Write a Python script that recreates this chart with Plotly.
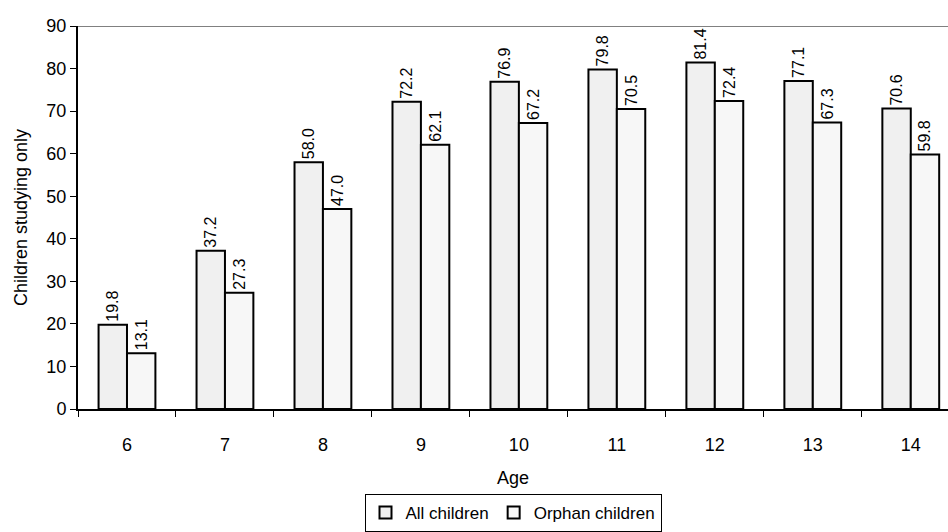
import plotly.graph_objects as go

ages = ["6", "7", "8", "9", "10", "11", "12", "13", "14"]
all_children = [19.8, 37.2, 58.0, 72.2, 76.9, 79.8, 81.4, 77.1, 70.6]
orphan_children = [13.1, 27.3, 47.0, 62.1, 67.2, 70.5, 72.4, 67.3, 59.8]

FONT = "Liberation Sans, Arial, sans-serif"

fig = go.Figure()
for name, vals, fill in [("All children", all_children, "#f0f0f0"),
                         ("Orphan children", orphan_children, "#f7f7f7")]:
    fig.add_trace(go.Bar(
        x=ages, y=vals, name=name,
        marker=dict(color=fill, line=dict(color="black", width=2)),
        text=[f"{v:.1f}" for v in vals], textposition="outside",
        textangle=-90, constraintext="none",
        textfont=dict(family=FONT, size=16, color="black"),
        cliponaxis=False,
    ))

fig.update_layout(
    width=948, height=532,
    margin=dict(l=78, r=0, t=26, b=123),
    paper_bgcolor="white", plot_bgcolor="white",
    font=dict(family=FONT, size=18, color="black"),
    barmode="group", bargap=0.42, bargroupgap=0,
    legend=dict(
        orientation="h", x=0.5, xanchor="center", y=-0.222, yanchor="top",
        bordercolor="black", borderwidth=1, font=dict(size=17),
        itemwidth=30, traceorder="normal", tracegroupgap=0,
    ),
    xaxis=dict(
        type="category", range=[-0.5, 8.38],
        tickson="boundaries", ticks="outside", ticklen=6, tickcolor="black",
        showline=True, linecolor="black", linewidth=2, showgrid=False,
        ticklabelstandoff=18,
        title=dict(text="Age", standoff=18, font=dict(size=18)),
        tickfont=dict(size=18),
    ),
    yaxis=dict(
        range=[0, 90], dtick=10, ticks="outside", ticklen=6, tickcolor="black",
        showline=True, linecolor="black", linewidth=2, showgrid=False,
        zeroline=False, tickfont=dict(size=18),
        title=dict(text="Children studying only", standoff=14, font=dict(size=18)),
    ),
)

# grey frame line along the top of the plot area
fig.add_shape(type="line", xref="paper", yref="y", x0=0, x1=1, y0=90, y1=90,
              line=dict(color="#808080", width=2))

fig.write_html("out.html")
